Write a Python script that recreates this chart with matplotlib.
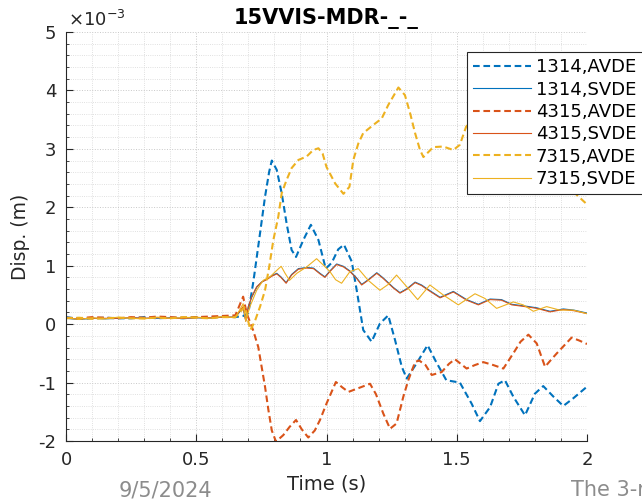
import matplotlib
matplotlib.use("Agg")
import matplotlib.pyplot as plt
from matplotlib.ticker import MultipleLocator

plt.rcParams['font.family'] = ['DejaVu Sans']
plt.rcParams['axes.unicode_minus'] = False

# Displacement in units of 1e-3 m
T_FLAT = [0.0, 0.05, 0.1, 0.15, 0.2, 0.25, 0.3, 0.35, 0.4, 0.45, 0.5, 0.55, 0.6, 0.65]

t_1314_avde = T_FLAT + [0.68, 0.70, 0.72, 0.745, 0.764, 0.78, 0.79, 0.809, 0.828, 0.847,
                        0.866, 0.883, 0.911, 0.94, 0.969, 0.997, 1.02, 1.045, 1.067, 1.097,
                        1.116, 1.141, 1.173, 1.205, 1.237, 1.263, 1.289, 1.308, 1.346, 1.388,
                        1.42, 1.46, 1.512, 1.557, 1.589, 1.628, 1.66, 1.685, 1.717, 1.762,
                        1.80, 1.832, 1.871, 1.909, 1.947, 2.0]
d_1314_avde = [0.12, 0.09, 0.10, 0.11, 0.10, 0.10, 0.12, 0.10, 0.11, 0.10, 0.12, 0.11, 0.13, 0.12,
               0.14, 0.19, 0.75, 1.56, 2.18, 2.61, 2.80, 2.64, 2.24, 1.72,
               1.27, 1.15, 1.44, 1.70, 1.44, 0.95, 1.05, 1.28, 1.36, 1.07,
               0.58, -0.10, -0.30, 0.01, 0.15, -0.27, -0.73, -0.93, -0.67, -0.36,
               -0.64, -0.96, -1.00, -1.36, -1.66, -1.42, -1.02, -0.96, -1.24, -1.56,
               -1.19, -1.06, -1.24, -1.40, -1.27, -1.07]

t_1314_svde = T_FLAT + [0.68, 0.69, 0.70, 0.713, 0.732, 0.751, 0.77, 0.79, 0.809, 0.825,
                        0.845, 0.866, 0.892, 0.924, 0.95, 0.975, 0.994, 1.013, 1.039, 1.065,
                        1.09, 1.116, 1.135, 1.16, 1.193, 1.218, 1.256, 1.282, 1.31, 1.34,
                        1.365, 1.391, 1.436, 1.487, 1.538, 1.583, 1.628, 1.672, 1.711, 1.762,
                        1.807, 1.858, 1.909, 1.95, 2.0]
d_1314_svde = [0.10, 0.08, 0.10, 0.09, 0.10, 0.11, 0.10, 0.10, 0.11, 0.10, 0.11, 0.10, 0.12, 0.12,
               0.28, 0.06, 0.30, 0.46, 0.63, 0.72, 0.77, 0.83, 0.87, 0.81,
               0.71, 0.85, 0.95, 0.97, 0.96, 0.87, 0.81, 0.91, 1.03, 0.99,
               0.91, 0.79, 0.68, 0.76, 0.88, 0.79, 0.63, 0.54, 0.61, 0.72,
               0.67, 0.59, 0.46, 0.56, 0.42, 0.34, 0.43, 0.42, 0.34, 0.31,
               0.28, 0.22, 0.26, 0.24, 0.19]

t_4315_avde = T_FLAT + [0.68, 0.694, 0.718, 0.738, 0.751, 0.764, 0.777, 0.79, 0.806, 0.834,
                        0.858, 0.883, 0.905, 0.93, 0.955, 0.975, 1.0, 1.036, 1.06, 1.084,
                        1.12, 1.167, 1.19, 1.218, 1.244, 1.269, 1.295, 1.314, 1.34, 1.355,
                        1.38, 1.404, 1.442, 1.47, 1.493, 1.538, 1.57, 1.602, 1.64, 1.679,
                        1.717, 1.745, 1.775, 1.807, 1.839, 1.86, 1.884, 1.941, 1.97, 2.0]
d_4315_avde = [0.11, 0.10, 0.12, 0.11, 0.10, 0.12, 0.11, 0.13, 0.12, 0.11, 0.12, 0.13, 0.14, 0.15,
               0.47, 0.18, -0.10, -0.39, -0.73, -1.07, -1.47, -1.82, -2.01, -1.90,
               -1.76, -1.64, -1.80, -1.94, -1.82, -1.64, -1.36, -0.99, -1.08, -1.16,
               -1.10, -1.02, -1.20, -1.53, -1.79, -1.70, -1.24, -0.96, -0.65, -0.62,
               -0.70, -0.87, -0.82, -0.68, -0.60, -0.76, -0.70, -0.65, -0.70, -0.76,
               -0.50, -0.30, -0.18, -0.33, -0.73, -0.62, -0.50, -0.23, -0.28, -0.34]

t_4315_svde = t_1314_svde
d_4315_svde = [0.10, 0.09, 0.10, 0.10, 0.10, 0.11, 0.10, 0.11, 0.10, 0.10, 0.11, 0.11, 0.12, 0.12,
               0.30, 0.05, 0.30, 0.47, 0.64, 0.72, 0.76, 0.82, 0.86, 0.80,
               0.70, 0.84, 0.94, 0.96, 0.95, 0.86, 0.80, 0.90, 1.02, 0.98,
               0.90, 0.78, 0.67, 0.75, 0.87, 0.78, 0.62, 0.53, 0.60, 0.71,
               0.66, 0.58, 0.45, 0.55, 0.41, 0.33, 0.42, 0.41, 0.33, 0.30,
               0.27, 0.21, 0.25, 0.23, 0.18]

t_7315_avde = T_FLAT + [0.687, 0.70, 0.708, 0.725, 0.745, 0.764, 0.78, 0.796, 0.815, 0.828,
                        0.847, 0.866, 0.892, 0.924, 0.949, 0.969, 0.985, 1.0, 1.033, 1.065,
                        1.088, 1.103, 1.122, 1.141, 1.18, 1.212, 1.237, 1.276, 1.301, 1.321,
                        1.34, 1.359, 1.372, 1.41, 1.448, 1.487, 1.512, 1.536, 1.58, 1.65,
                        1.72, 1.80, 1.88, 1.954, 2.0]
d_7315_avde = [0.10, 0.11, 0.09, 0.10, 0.11, 0.10, 0.10, 0.11, 0.10, 0.12, 0.11, 0.10, 0.12, 0.12,
               0.30, 0.04, -0.10, 0.05, 0.30, 0.58, 0.98, 1.44, 1.84, 2.24,
               2.47, 2.67, 2.81, 2.87, 2.98, 3.01, 2.92, 2.69, 2.41, 2.23,
               2.35, 2.81, 3.09, 3.27, 3.41, 3.52, 3.75, 4.05, 3.92, 3.61,
               3.27, 2.98, 2.86, 3.03, 3.04, 2.98, 3.07, 3.38, 3.60, 3.40,
               3.10, 2.90, 2.60, 2.24, 2.05]

t_7315_svde = T_FLAT + [0.68, 0.69, 0.706, 0.732, 0.757, 0.783, 0.809, 0.826, 0.841, 0.858,
                        0.886, 0.924, 0.962, 0.988, 1.013, 1.035, 1.058, 1.09, 1.122, 1.16,
                        1.205, 1.237, 1.269, 1.314, 1.35, 1.397, 1.448, 1.506, 1.57, 1.608,
                        1.653, 1.717, 1.755, 1.794, 1.845, 1.896, 1.947, 2.0]
d_7315_svde = [0.11, 0.08, 0.11, 0.09, 0.12, 0.10, 0.09, 0.12, 0.10, 0.11, 0.12, 0.10, 0.13, 0.11,
               0.35, 0.05, 0.30, 0.58, 0.75, 0.81, 0.92, 0.99, 0.87, 0.75,
               0.87, 0.98, 1.12, 1.01, 0.90, 0.76, 0.70, 0.90, 0.95, 0.75,
               0.58, 0.68, 0.84, 0.61, 0.42, 0.67, 0.50, 0.33, 0.52, 0.44,
               0.27, 0.38, 0.33, 0.22, 0.30, 0.24, 0.24, 0.18]

BLUE, ORANGE, YELLOW = '#0072BD', '#D95319', '#EDB120'

fig = plt.figure(figsize=(6.42, 5.04), dpi=100)
ax = fig.add_axes([66 / 642, 1 - 441 / 504, (587 - 66) / 642, (441 - 32) / 504])

dash = (3.2, 1.8)
ax.plot(t_1314_avde, d_1314_avde, color=BLUE, lw=1.5, ls='--', dashes=dash, label='1314,AVDE')
ax.plot(t_1314_svde, d_1314_svde, color=BLUE, lw=0.8, label='1314,SVDE')
ax.plot(t_4315_avde, d_4315_avde, color=ORANGE, lw=1.5, ls='--', dashes=dash, label='4315,AVDE')
ax.plot(t_4315_svde, d_4315_svde, color=ORANGE, lw=0.8, label='4315,SVDE')
ax.plot(t_7315_avde, d_7315_avde, color=YELLOW, lw=1.5, ls='--', dashes=dash, label='7315,AVDE')
ax.plot(t_7315_svde, d_7315_svde, color=YELLOW, lw=0.8, label='7315,SVDE')

ax.set_xlim(0, 2)
ax.set_ylim(-2, 5)
ax.xaxis.set_major_locator(MultipleLocator(0.5))
ax.xaxis.set_minor_locator(MultipleLocator(0.1))
ax.yaxis.set_major_locator(MultipleLocator(1))
ax.yaxis.set_minor_locator(MultipleLocator(0.2))
ax.xaxis.set_major_formatter(plt.FuncFormatter(lambda v, p: f'{v:g}'))

ax.grid(which='major', color='#c8c8c8', lw=0.7, ls=':')
ax.grid(which='minor', color='#d6d6d6', lw=0.6, ls=':')
ax.set_axisbelow(True)

for s in ['top', 'right']:
    ax.spines[s].set_visible(False)
for s in ['left', 'bottom']:
    ax.spines[s].set_color('#262626')
    ax.spines[s].set_linewidth(0.8)
ax.tick_params(which='both', direction='in', colors='#262626', labelsize=13, pad=7)
ax.tick_params(which='major', length=5)
ax.tick_params(which='minor', length=2.5)

ax.set_xlabel('Time (s)', fontsize=14, color='#262626', labelpad=4)
ax.set_ylabel('Disp. (m)', fontsize=13.5, color='#262626', labelpad=6)
ax.set_title('15VVIS-MDR-_-_', fontsize=15, fontweight='bold', pad=6)
ax.text(0.003, 1.005, r'$\times10^{-3}$', transform=ax.transAxes, fontsize=13,
        ha='left', va='bottom', color='#262626')

leg = ax.legend(loc='upper left', bbox_to_anchor=(0.77, 0.951), borderaxespad=0,
                fontsize=13, handlelength=3.2, handletextpad=0.25, labelspacing=0.24,
                fancybox=False, framealpha=1, edgecolor='#262626', borderpad=0.35)
leg.get_frame().set_linewidth(0.8)

fig.text(165 / 642, 1 - 490 / 504, '9/5/2024', ha='center', va='center',
         fontsize=15, color='#8c8c8c')
fig.text(571 / 642, 1 - 490 / 504, 'The 3-run', ha='left', va='center',
         fontsize=15, color='#8c8c8c')

fig.savefig('out.png', dpi=100)
